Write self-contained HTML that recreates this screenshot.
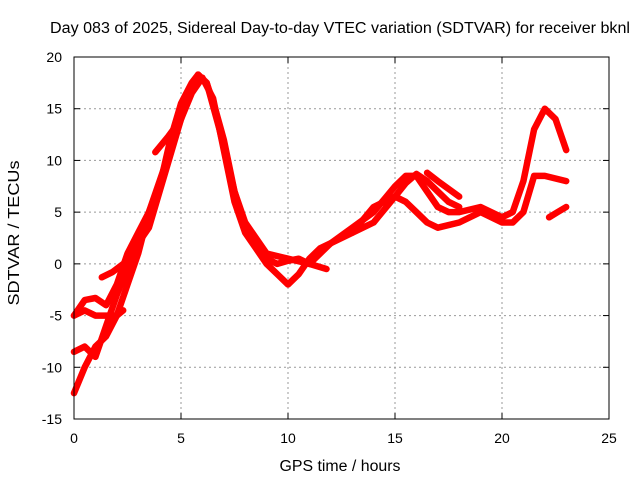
<!DOCTYPE html>
<html><head><meta charset="utf-8"><style>
body{margin:0;background:#fff}
svg{display:block;font-family:"Liberation Sans",sans-serif}
</style></head><body>
<svg id="chart" width="640" height="480">
<text x="340" y="33" font-size="15.5" text-anchor="middle" textLength="580" lengthAdjust="spacingAndGlyphs">Day 083 of 2025, Sidereal Day-to-day VTEC variation (SDTVAR) for receiver bknl</text>
<text x="340" y="471" font-size="15.5" text-anchor="middle" textLength="121" lengthAdjust="spacingAndGlyphs">GPS time / hours</text>
<text x="19" y="233" font-size="15.5" text-anchor="middle" textLength="145" lengthAdjust="spacingAndGlyphs" transform="rotate(-90 19 233)">SDTVAR / TECUs</text>
<g id="grid"></g><g id="ticks"></g><g id="series"></g>
<rect x="74" y="57" width="535" height="362" fill="none" stroke="#000" stroke-width="1"/>
</svg>
<script>
const xTicks=[0,5,10,15,20,25];
const yTicks=[-15,-10,-5,0,5,10,15,20];
const s1x=[0,0.5,1,1.5,2,2.5,3,3.5,4,4.5,5,5.5,5.8,6.2,6.6,7,7.5,8,8.5,9,9.5,10,10.5,11,11.5,12,13,14,15,15.5,16,16.5,17,17.5,18,19,20,20.5,21,21.5,22,22.5,23];
const s1y=[-5,-3.5,-3.3,-4,-2,1,3,5,7.5,12,15.5,17.5,18.3,17.5,15,12,7,3.5,2,0.5,0,0.3,0.5,0,1,2,3.5,5,7.5,8.5,8.5,7,5.5,5,5,5.5,4.5,5,8,13,15,14,11];
const s2x=[0,0.5,1,1.5,2,2.5,3,3.5,4,4.5,5,5.5,6,6.5,7,7.5,8,8.5,9,9.5,10,10.5,11,11.5,12,13,14,15,15.5,16,16.5,17,18,19,20,20.5,21,21.5,22,23];
const s2y=[-8.5,-8,-9,-6,-3,-0.5,2,3.5,7,10.5,14,16.5,18,16,11,6,3,1.5,0,-1,-2,-1,0.5,1.5,2,3,4,6.5,6,5,4,3.5,4,5,4,4,5,8.5,8.5,8];
const s3x=[0,0.5,1,1.5,2,2.5,3,3.5,4,4.5,5,5.5,5.8,6.2,6.8,7.5,8,8.5,9,10,11,11.8];
const s3y=[-12.5,-10,-8,-7,-5,-2,1,5,8,11,14,17,18.3,17.5,13,7,4,2.5,1,0.5,0,-0.5];
const s4x=[13,14,15,15.5,16,16.5,17,17.5,18];
const s4y=[3,5.5,6.5,7.8,8.7,8,7,6,5.5];
const s5x=[1.3,1.8,2.3];const s5y=[-1.3,-0.8,0];
const s6x=[3.8,4.4,5];const s6y=[10.8,12.3,14];
const s7x=[0,0.5,1,1.5,2,2.3];const s7y=[-5,-4.5,-5,-5,-5,-4.5];
const s8x=[16.5,17,18];const s8y=[8.8,8,6.5];
const s9x=[22.2,22.6,23];const s9y=[4.5,5,5.5];
const X=v=>74+v*535/25, Y=v=>419-(v+15)*362/35;
const NS="http://www.w3.org/2000/svg";
const g=document.getElementById('grid'),t=document.getElementById('ticks'),sg=document.getElementById('series');
function mk(tag,at,p){const e=document.createElementNS(NS,tag);for(const k in at)e.setAttribute(k,at[k]);p.appendChild(e);return e;}
xTicks.forEach(v=>{const x=X(v);
 if(v>0&&v<25){const l=mk('line',{x1:x,x2:x,y1:57,y2:419,stroke:'#999','stroke-dasharray':'2,3'},g);
 
 }
 mk('line',{x1:x,x2:x,y1:419,y2:413,stroke:'#000'},t);mk('line',{x1:x,x2:x,y1:57,y2:63,stroke:'#000'},t);
 const tx=mk('text',{x:x,y:443,'font-size':14,'text-anchor':'middle'},t);tx.textContent=v;
 
 });
yTicks.forEach(v=>{const y=Y(v);
 if(v>-15&&v<20){const l=mk('line',{x1:74,x2:609,y1:y,y2:y,stroke:'#999','stroke-dasharray':'2,3'},g);
 
 }
 mk('line',{x1:74,x2:80,y1:y,y2:y,stroke:'#000'},t);mk('line',{x1:609,x2:603,y1:y,y2:y,stroke:'#000'},t);
 const tx=mk('text',{x:62,y:y+5,'font-size':14,'text-anchor':'end'},t);tx.textContent=v;
 
 });
[[s1x,s1y],[s2x,s2y],[s3x,s3y],[s4x,s4y],[s5x,s5y],[s6x,s6y],[s7x,s7y],[s8x,s8y],[s9x,s9y]].forEach((s,i)=>{
 const pts=s[0].map((x,j)=>X(x).toFixed(1)+','+Y(s[1][j]).toFixed(1)).join(' ');
 const p=mk('polyline',{points:pts,fill:'none',stroke:'#f00','stroke-width':6.5,'stroke-linejoin':'round','stroke-linecap':'round'},sg);
 
 
});
</script>
</body></html>
